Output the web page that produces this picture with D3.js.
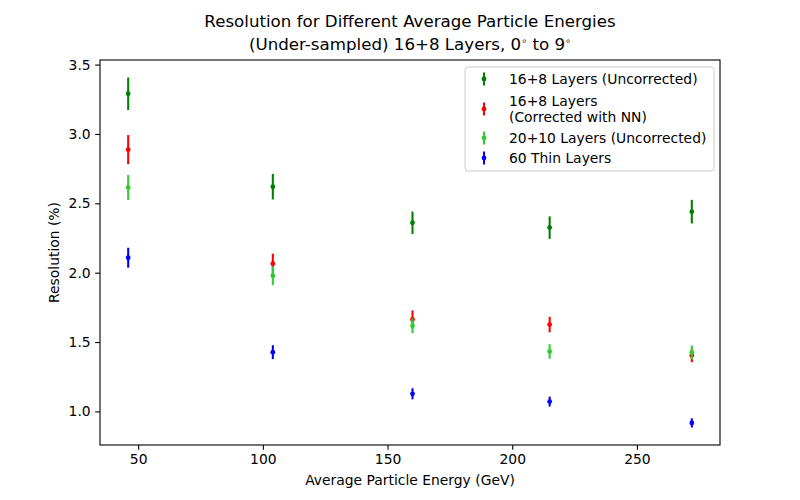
<!DOCTYPE html>
<html>
<head>
<meta charset="utf-8">
<script src="https://cdn.jsdelivr.net/npm/d3@7"></script>
<style>
    body { margin: 0; background: #fff; }
    text { font-family: "DejaVu Sans", sans-serif; fill: #000; }
</style>
</head>
<body>
<svg id="chart" width="800" height="500"></svg>
<script>
// average particle energy (GeV)
var energies = [46, 104, 160, 215, 272];

var seriesNames = [
    "16+8 Layers (Uncorrected)",
    "16+8 Layers\n(Corrected with NN)",
    "20+10 Layers (Uncorrected)",
    "60 Thin Layers"
];
var seriesColors = ["#008000", "#ff0000", "#32cd32", "#0000ff"];

// resolution (%) and its error
var uncorrected = [3.29, 2.62, 2.36, 2.325, 2.44];
var uncorrectedErr = [0.117, 0.092, 0.081, 0.081, 0.085];
var correctedNN = [2.887, 2.065, 1.663, 1.626, 1.403];
var correctedNNErr = [0.105, 0.072, 0.065, 0.056, 0.048];
var layers2010 = [2.614, 1.978, 1.617, 1.432, 1.425];
var layers2010Err = [0.091, 0.068, 0.053, 0.052, 0.05];
var thinLayers = [2.108, 1.427, 1.127, 1.071, 0.917];
var thinLayersErr = [0.072, 0.05, 0.04, 0.036, 0.033];

var xTicks = [50, 100, 150, 200, 250];
var yTicks = [1.0, 1.5, 2.0, 2.5, 3.0, 3.5];

var seriesValues = [uncorrected, correctedNN, layers2010, thinLayers];
var seriesErrors = [uncorrectedErr, correctedNNErr, layers2010Err, thinLayersErr];

var series = seriesNames.map(function(name, i) {
    return {
        name: name,
        color: seriesColors[i],
        points: energies.map(function(e, j) {
            return { x: e, y: seriesValues[i][j], err: seriesErrors[i][j] };
        })
    };
});

var svg = d3.select("svg#chart"),
    margin = { top: 60, right: 80, bottom: 55, left: 100 },
    width = 800 - margin.left - margin.right,
    height = 500 - margin.top - margin.bottom,
    g = svg
        .append("g")
        .attr("transform", "translate(" + margin.left + "," + margin.top + ")");

// matplotlib style 5% margins
var xMin = d3.min(energies), xMax = d3.max(energies);
var xPad = (xMax - xMin) * 0.05;
var allLow = [], allHigh = [];
series.forEach(function(s) {
    s.points.forEach(function(p) {
        allLow.push(p.y - p.err);
        allHigh.push(p.y + p.err);
    });
});
var yMin = d3.min(allLow), yMax = d3.max(allHigh);
var yPad = (yMax - yMin) * 0.05;

var x = d3.scaleLinear().domain([xMin - xPad, xMax + xPad]).range([0, width]);
var y = d3.scaleLinear().domain([yMin - yPad, yMax + yPad]).range([height, 0]);

var tickLen = 4.86;
var fs = "13.89px";

// axes
var xAxis = g.append("g")
    .attr("transform", "translate(0," + height + ")")
    .call(d3.axisBottom(x).tickValues(xTicks).tickSize(tickLen).tickPadding(4.5).tickFormat(d3.format("d")));
var yAxis = g.append("g")
    .call(d3.axisLeft(y).tickValues(yTicks).tickSize(tickLen).tickPadding(4.5).tickFormat(d3.format(".1f")));

[xAxis, yAxis].forEach(function(a) {
    a.select(".domain").remove();
    a.selectAll(".tick line").attr("stroke", "#000").attr("stroke-width", 1.1);
    a.selectAll(".tick text")
        .attr("font-family", "DejaVu Sans")
        .attr("font-size", fs)
        .attr("fill", "#000");
});

// frame
g.append("rect")
    .attr("x", 0)
    .attr("y", 0)
    .attr("width", width)
    .attr("height", height)
    .attr("fill", "none")
    .attr("stroke", "#000")
    .attr("stroke-width", 1.1);

// error bars
var groups = g.append("g")
    .selectAll("g")
    .data(series)
    .enter()
    .append("g")
    .attr("fill", d => d.color)
    .attr("stroke", d => d.color);

groups.selectAll("line")
    .data(d => d.points)
    .enter()
    .append("line")
    .attr("x1", d => x(d.x))
    .attr("x2", d => x(d.x))
    .attr("y1", d => y(d.y - d.err))
    .attr("y2", d => y(d.y + d.err))
    .attr("stroke-width", 2.08);

groups.selectAll("circle")
    .data(d => d.points)
    .enter()
    .append("circle")
    .attr("cx", d => x(d.x))
    .attr("cy", d => y(d.y))
    .attr("r", 2.4)
    .attr("stroke", "none");

// axis labels
g.append("text")
    .attr("x", width / 2)
    .attr("y", height + 40)
    .attr("text-anchor", "middle")
    .attr("font-size", fs)
    .text("Average Particle Energy (GeV)");

g.append("text")
    .attr("transform", "translate(" + -41 + "," + height / 2 + ") rotate(-90)")
    .attr("text-anchor", "middle")
    .attr("font-size", fs)
    .text("Resolution (%)");

// title
var title = svg.append("g")
    .attr("transform", "translate(" + (margin.left + width / 2) + ",0)");

title.append("text")
    .attr("y", 27)
    .attr("text-anchor", "middle")
    .attr("font-size", "16.67px")
    .text("Resolution for Different Average Particle Energies");

var t2 = title.append("text")
    .attr("y", 50)
    .attr("text-anchor", "middle")
    .attr("font-size", "16.67px");
t2.append("tspan").text("(Under-sampled) 16+8 Layers, 0");
t2.append("tspan").attr("dy", -6).attr("font-size", "9.5px").text("\u2218");
t2.append("tspan").attr("dy", 6).text(" to 9");
t2.append("tspan").attr("dy", -6).attr("font-size", "9.5px").text("\u2218");

// legend
var legend = g.append("g")
    .attr("class", "legend")
    .attr("transform", "translate(" + (width - 255) + ",7)");

legend.append("rect")
    .attr("width", 249)
    .attr("height", 104)
    .attr("rx", 3)
    .attr("fill", "#fff")
    .attr("fill-opacity", 0.8)
    .attr("stroke", "#cccccc")
    .attr("stroke-width", 1);

var rowY = [12, 42, 71, 91];

var items = legend.selectAll("g.item")
    .data(series)
    .enter()
    .append("g")
    .attr("class", "item")
    .attr("transform", (d, i) => "translate(0," + rowY[i] + ")");

items.append("line")
    .attr("x1", 19)
    .attr("x2", 19)
    .attr("y1", -6.5)
    .attr("y2", 6.5)
    .attr("stroke", d => d.color)
    .attr("stroke-width", 2.08);

items.append("circle")
    .attr("cx", 19)
    .attr("cy", 0)
    .attr("r", 2.4)
    .attr("fill", d => d.color);

items.append("text")
    .attr("x", 44)
    .attr("font-size", fs)
    .each(function(d) {
        var lines = d.name.split("\n");
        var t = d3.select(this);
        lines.forEach(function(line, k) {
            t.append("tspan")
                .attr("x", 44)
                .attr("y", (k - (lines.length - 1) / 2) * 16.5 + 5)
                .text(line);
        });
    });
</script>
</body>
</html>
